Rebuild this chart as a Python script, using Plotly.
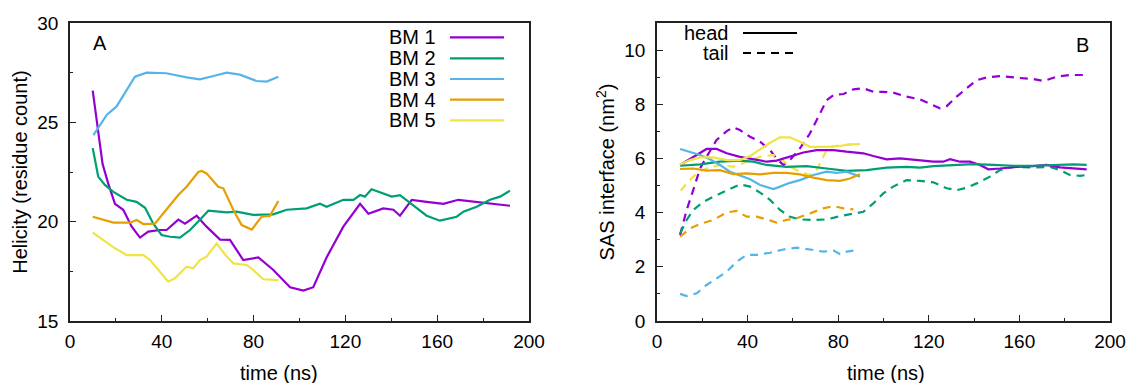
import plotly.graph_objects as go
from plotly.subplots import make_subplots

# ---------------- Panel A: helicity ----------------
bm1_x = [9.9, 11.9, 14.2, 16.7, 19.6, 23.2, 26.9, 30.5, 34.1, 39.2, 42.1, 47.2, 50.1, 55.2, 59.5, 65.4, 69.7,
         75.5, 82.1, 88.6, 95.9, 101.7, 106.0, 111.8, 119.1, 126.4, 130.0, 136.5, 140.9, 143.8, 148.9, 155.4,
         162.7, 169.2, 177.2, 184.5, 191.7]
bm1_y = [26.6, 24.8, 22.9, 21.9, 20.9, 20.6, 19.75, 19.2, 19.5, 19.58, 19.58, 20.1, 19.9, 20.3, 19.75, 19.1, 19.08,
         18.07, 18.2, 17.57, 16.7, 16.53, 16.7, 18.2, 19.75, 20.9, 20.4, 20.67, 20.6, 20.3, 21.1, 21.0,
         20.9, 21.1, 21.0, 20.9, 20.8]

bm2_x = [9.9, 12.3, 15.2, 18.9, 24.7, 29.0, 32.7, 36.3, 39.9, 43.6, 47.9, 52.3, 56.6, 60.3, 68.3, 72.6, 79.8,
         88.6, 94.4, 103.1, 108.9, 111.8, 119.1, 123.5, 126.4, 128.5, 131.4, 136.5, 140.2, 143.8, 149.6, 155.4,
         161.2, 168.5, 171.4, 177.2, 183.0, 187.4, 191.7]
bm2_y = [23.7, 22.27, 21.85, 21.5, 21.1, 21.0, 20.7, 19.9, 19.33, 19.24, 19.2, 19.58, 20.1, 20.55, 20.47, 20.5, 20.34,
         20.37, 20.6, 20.67, 20.9, 20.75, 21.1, 21.1, 21.34, 21.26, 21.63, 21.4, 21.26, 21.34, 20.84, 20.3,
         20.05, 20.25, 20.5, 20.75, 21.1, 21.26, 21.56]

bm3_x = [10.2, 16.0, 20.3, 24.7, 28.3, 33.4, 42.0, 50.8, 56.6, 62.5, 68.3, 74.0, 81.3, 85.7, 90.8]
bm3_y = [24.36, 25.37, 25.8, 26.6, 27.3, 27.5, 27.47, 27.26, 27.16, 27.33, 27.5, 27.4, 27.08, 27.05, 27.3]

bm4_x = [9.9, 14.5, 18.9, 26.1, 29.0, 32.0, 37.0, 40.7, 47.2, 50.8, 55.9, 57.4, 59.5, 64.6, 66.8, 71.2, 74.8,
         79.2, 83.5, 87.1, 90.8]
bm4_y = [20.25, 20.08, 19.95, 19.95, 20.08, 19.88, 19.9, 20.42, 21.34, 21.76, 22.5, 22.55, 22.43, 21.76, 21.68,
         20.59, 19.83, 19.6, 20.25, 20.29, 21.04]

bm5_x = [9.9, 14.5, 19.6, 24.7, 32.0, 34.9, 39.2, 42.8, 45.7, 50.8, 53.7, 56.6, 59.5, 63.9, 68.3, 71.2, 77.0,
         79.8, 84.2, 90.8]
bm5_y = [19.45, 19.08, 18.66, 18.32, 18.32, 18.07, 17.48, 16.98, 17.15, 17.73, 17.65, 18.07, 18.24, 18.9, 18.24,
         17.9, 17.82, 17.57, 17.1, 17.06]

# ---------------- Panel B: SAS interface ----------------
h1_x = [10.2, 16.0, 21.9, 26.3, 30.8, 36.6, 42.5, 48.4, 52.8, 58.7, 64.6, 70.5, 77.9, 83.7, 91.1, 95.5, 101.4,
        107.3, 114.6, 122.0, 126.4, 129.4, 133.8, 138.2, 142.6, 146.3, 151.4, 158.8, 166.1, 172.0, 177.9, 183.8, 189.7]
h1_y = [5.76, 6.06, 6.35, 6.35, 6.19, 6.06, 5.97, 5.88, 5.92, 6.06, 6.22, 6.31, 6.31, 6.25, 6.19, 6.09, 5.97,
        6.0, 5.94, 5.88, 5.88, 5.97, 5.88, 5.88, 5.76, 5.6, 5.63, 5.69, 5.72, 5.76, 5.67, 5.63, 5.6]

h2_x = [10.2, 19.0, 27.8, 36.6, 42.5, 48.4, 57.2, 66.1, 74.9, 83.7, 92.6, 101.4, 110.2, 116.1, 122.0, 130.8,
        139.7, 148.5, 157.3, 166.1, 175.0, 183.8, 189.7]
h2_y = [5.73, 5.78, 5.88, 5.92, 5.88, 5.76, 5.69, 5.72, 5.63, 5.54, 5.57, 5.66, 5.69, 5.66, 5.72, 5.76,
        5.79, 5.76, 5.73, 5.73, 5.76, 5.78, 5.76]

h3_x = [10.2, 14.6, 19.0, 23.4, 27.8, 32.2, 36.6, 41.1, 45.5, 51.4, 54.3, 58.7, 63.1, 69.0, 74.9, 79.3, 83.7, 89.6]
h3_y = [6.35, 6.25, 6.13, 5.97, 5.76, 5.51, 5.36, 5.23, 5.02, 4.87, 4.96, 5.1, 5.2, 5.39, 5.51, 5.47, 5.51, 5.33]

h4_x = [10.2, 16.0, 21.9, 27.8, 33.7, 39.6, 45.5, 51.4, 57.2, 63.1, 69.0, 74.9, 80.8, 85.2, 89.6]
h4_y = [5.61, 5.63, 5.55, 5.57, 5.42, 5.45, 5.41, 5.47, 5.47, 5.41, 5.29, 5.2, 5.17, 5.26, 5.42]

h5_x = [10.2, 14.6, 19.0, 24.9, 30.8, 36.6, 41.1, 45.5, 49.9, 54.3, 58.7, 63.1, 67.5, 74.9, 80.8, 85.2, 89.6]
h5_y = [5.78, 5.94, 6.04, 6.04, 5.94, 5.94, 6.09, 6.35, 6.58, 6.78, 6.78, 6.62, 6.43, 6.43, 6.46, 6.52, 6.53]

t1_x = [10.2, 13.1, 16.0, 19.0, 21.9, 26.3, 30.8, 33.7, 36.6, 41.1, 45.5, 49.9, 52.8, 55.8, 58.7, 63.1, 67.5,
        72.0, 74.9, 77.9, 82.3, 86.7, 91.1, 95.5, 99.9, 104.3, 110.2, 116.1, 122.0, 124.9, 127.9, 132.3, 136.7,
        141.1, 145.5, 151.4, 158.8, 166.1, 170.6, 176.5, 182.3, 189.7]
t1_y = [3.17, 4.1, 4.83, 5.63, 6.06, 6.68, 7.01, 7.15, 7.05, 6.8, 6.62, 6.31, 6.0, 5.76, 5.94, 6.37, 6.92,
        7.66, 8.15, 8.34, 8.38, 8.55, 8.59, 8.46, 8.46, 8.43, 8.28, 8.18, 7.97, 7.85, 7.93, 8.28, 8.59,
        8.89, 8.99, 9.04, 8.98, 8.93, 8.86, 9.02, 9.08, 9.08]

t2_x = [10.2, 13.1, 16.0, 20.5, 24.9, 30.8, 36.6, 41.1, 45.5, 49.9, 54.3, 58.7, 63.1, 69.0, 74.9, 80.8, 86.7,
        91.1, 95.5, 99.9, 104.3, 110.2, 116.1, 122.0, 127.9, 132.3, 136.7, 141.1, 147.0, 151.4, 157.3, 166.1,
        173.5, 177.9, 182.3, 186.8, 189.7]
t2_y = [3.23, 3.73, 4.1, 4.4, 4.59, 4.83, 5.04, 4.96, 4.74, 4.47, 4.1, 3.85, 3.75, 3.73, 3.75, 3.87, 3.95,
        4.03, 4.34, 4.71, 4.96, 5.2, 5.17, 5.12, 4.9, 4.83, 4.92, 5.08, 5.33, 5.57, 5.69, 5.67,
        5.69, 5.57, 5.39, 5.36, 5.39]

t3_x = [10.2, 13.1, 17.5, 21.9, 26.3, 30.8, 35.2, 39.6, 44.0, 49.9, 55.8, 61.6, 67.5, 73.4, 77.9, 80.8, 83.7, 86.7]
t3_y = [1.0, 0.92, 1.02, 1.33, 1.57, 1.82, 2.19, 2.44, 2.44, 2.52, 2.64, 2.71, 2.64, 2.56, 2.6, 2.47, 2.56, 2.6]

t4_x = [10.2, 14.6, 19.0, 24.9, 30.8, 35.2, 39.6, 44.0, 48.4, 52.8, 57.2, 61.6, 67.5, 73.4, 77.9, 82.3, 86.7]
t4_y = [3.11, 3.42, 3.58, 3.73, 4.01, 4.06, 3.85, 3.85, 3.75, 3.63, 3.73, 3.79, 3.97, 4.16, 4.24, 4.16, 4.12]

t5_x = [10.5, 13.1, 17.5, 21.9, 27.8, 33.7, 39.6, 45.5, 51.4, 55.0, 58.7, 63.1, 67.5, 70.5, 72.7, 74.9, 77.9, 82.3, 86.0]
t5_y = [4.81, 5.08, 5.45, 5.63, 5.76, 5.69, 5.88, 6.06, 6.13, 5.97, 5.69, 5.51, 5.39, 5.57, 5.94, 6.31, 6.45, 6.5, 6.52]

names = ["BM 1", "BM 2", "BM 3", "BM 4", "BM 5"]
colors = ["#9400D3", "#009E73", "#56B4E9", "#E69F00", "#F0E442"]
heli = [(bm1_x, bm1_y), (bm2_x, bm2_y), (bm3_x, bm3_y), (bm4_x, bm4_y), (bm5_x, bm5_y)]
head = [(h1_x, h1_y), (h2_x, h2_y), (h3_x, h3_y), (h4_x, h4_y), (h5_x, h5_y)]
tail = [(t1_x, t1_y), (t2_x, t2_y), (t3_x, t3_y), (t4_x, t4_y), (t5_x, t5_y)]

FONT = "Liberation Sans"
TICK_SIZE = 19
TEXT_SIZE = 20
LW = 2.2
DASH = "8px,6px"

fig = make_subplots(rows=1, cols=2, horizontal_spacing=0.1)

for (x, y), n, c in zip(heli, names, colors):
    fig.add_trace(go.Scatter(x=x, y=y, mode="lines", name=n, line=dict(color=c, width=LW),
                             showlegend=False), row=1, col=1)
for (x, y), n, c in zip(tail, names, colors):
    fig.add_trace(go.Scatter(x=x, y=y, mode="lines", name=n + " tail",
                             line=dict(color=c, width=LW, dash=DASH), showlegend=False), row=1, col=2)
for (x, y), n, c in zip(head, names, colors):
    fig.add_trace(go.Scatter(x=x, y=y, mode="lines", name=n + " head",
                             line=dict(color=c, width=LW), showlegend=False), row=1, col=2)

# page offset (browser default body margin)
OFF = 8
W, H = 1137 - OFF, 383 - OFF
L, T = 70 - OFF, 23 - OFF
R = W - (1110 - OFF)
B = H - (321 - OFF)
pw = W - L - R
ph = H - T - B

def px(xp):
    return (xp - OFF - L) / pw

def py(yp):
    return (H - B - (yp - OFF)) / ph

axis_common = dict(showline=True, linecolor="#222", linewidth=1.5, mirror=True, ticks="inside",
                   ticklen=6, tickwidth=1, tickcolor="#222", showgrid=False, zeroline=False,
                   tickfont=dict(family=FONT, size=TICK_SIZE, color="black"),
                   title_font=dict(family=FONT, size=TEXT_SIZE, color="black"))

fig.update_xaxes(**axis_common, range=[0, 200], dtick=40, tick0=0, ticklabelstandoff=2,
                 minor=dict(ticks="inside", ticklen=3, dtick=20, tickcolor="#222"))
fig.update_xaxes(domain=[0, px(529)], row=1, col=1)
fig.update_xaxes(domain=[px(657), 1], row=1, col=2)
fig.update_yaxes(**axis_common, ticklabelstandoff=6)
fig.update_yaxes(range=[15, 30], dtick=5, tick0=15,
                 minor=dict(ticks="inside", ticklen=3, dtick=2.5, tickcolor="#222"),
                 title_text="Helicity (residue count)", title_standoff=4, row=1, col=1)
fig.update_yaxes(range=[0, 11], dtick=2, tick0=0,
                 minor=dict(ticks="inside", ticklen=3, dtick=1, tickcolor="#222"),
                 title_text="SAS interface (nm<sup>2</sup>)", title_standoff=4, row=1, col=2)

annotations = []
shapes = []

def text(xp, yp, s, xanchor="center"):
    annotations.append(dict(x=px(xp), y=py(yp), xref="paper", yref="paper", text=s, showarrow=False,
                            xanchor=xanchor, yanchor="middle",
                            font=dict(family=FONT, size=TEXT_SIZE, color="black")))

# x axis titles
text(279, 373, "time (ns)")
text(886, 373, "time (ns)")
# panel labels
text(100, 43, "A")
text(1082, 45, "B")
# legend A
rows_y = [37.3, 58.3, 79.0, 99.7, 120.3]
for n, c, yy in zip(names, colors, rows_y):
    text(438, yy, n, xanchor="right")
    shapes.append(dict(type="line", xref="paper", yref="paper", x0=px(450), x1=px(504), y0=py(yy), y1=py(yy),
                       line=dict(color=c, width=LW)))
# legend B
for lab, dsh, yy in [("head", "solid", 33), ("tail", DASH, 53)]:
    text(731, yy, lab, xanchor="right")
    shapes.append(dict(type="line", xref="paper", yref="paper", x0=px(743), x1=px(797), y0=py(yy), y1=py(yy),
                       line=dict(color="black", width=LW, dash=dsh)))

fig.update_layout(width=W, height=H, margin=dict(l=L, r=R, t=T, b=B, autoexpand=False),
                  plot_bgcolor="white", paper_bgcolor="white",
                  annotations=annotations, shapes=shapes, showlegend=False,
                  font=dict(family=FONT, size=TICK_SIZE, color="black"))

fig.write_html("out.html")
